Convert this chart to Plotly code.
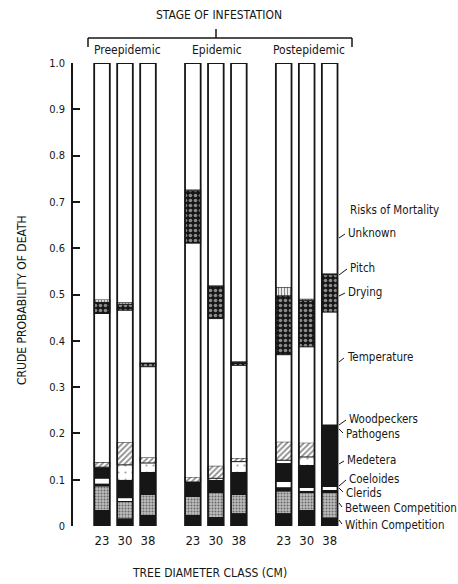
import plotly.graph_objects as go

# ---------------- data ----------------
stages = ["Preepidemic", "Epidemic", "Postepidemic"]
diameter_classes = ["23", "30", "38"]

# crude probability of death by risk (bars ordered Pre23, Pre30, Pre38, Epi23 ... Post38)
within_competition  = [0.035, 0.017, 0.024, 0.024, 0.020, 0.028, 0.028, 0.035, 0.019]
between_competition = [0.050, 0.035, 0.043, 0.039, 0.051, 0.039, 0.046, 0.036, 0.052]
clerids             = [0.007, 0.004, 0.003, 0.002, 0.000, 0.002, 0.010, 0.005, 0.007]
coeloides           = [0.010, 0.004, 0.000, 0.000, 0.000, 0.000, 0.011, 0.006, 0.006]
medetera            = [0.025, 0.040, 0.047, 0.030, 0.029, 0.048, 0.041, 0.050, 0.135]
pathogens           = [0.000, 0.032, 0.019, 0.000, 0.003, 0.022, 0.006, 0.017, 0.000]
woodpeckers         = [0.011, 0.049, 0.012, 0.011, 0.027, 0.008, 0.040, 0.031, 0.000]
temperature         = [0.321, 0.285, 0.196, 0.505, 0.318, 0.200, 0.188, 0.207, 0.243]
drying              = [0.024, 0.013, 0.007, 0.113, 0.069, 0.007, 0.127, 0.101, 0.081]
pitch               = [0.006, 0.004, 0.002, 0.003, 0.003, 0.002, 0.019, 0.003, 0.003]
unknown             = [0.511, 0.517, 0.647, 0.273, 0.480, 0.644, 0.484, 0.509, 0.454]

y_tick_values = [0, 0.1, 0.2, 0.3, 0.4, 0.5, 0.6, 0.7, 0.8, 0.9, 1.0]
y_tick_labels = ["0", "0.1", "0.2", "0.3", "0.4", "0.5", "0.6", "0.7", "0.8", "0.9", "1.0"]

# ---------------- styling ----------------
FONT = "DejaVu Sans Condensed, Liberation Sans Narrow, sans-serif"
INK = "#161616"
W, H = 458, 584
ML, MR, MT, MB = 73, 0, 63, 58
PW, PH = W - ML - MR, H - MT - MB

GROUP_STEP = 3.95
xpos = [g * GROUP_STEP + i for g in range(len(stages)) for i in range(len(diameter_classes))]
xlabels = [c for _ in stages for c in diameter_classes]

UNIT = 23.0          # pixels per x unit
X0_PX = 102.0        # pixel of first bar centre
x_range = [(ML - X0_PX) / UNIT, (W - MR - X0_PX) / UNIT]

def px(xp):
    return (xp - ML) / PW

def py(yp):
    return (MT + PH - yp) / PH

series = [
    ("Within Competition", within_competition, dict(color=INK), 0),
    ("Between Competition", between_competition,
     dict(color="#b8b8b8", pattern=dict(shape=".", fgcolor=INK, bgcolor="#bdbdbd", size=3, solidity=0.35)), 0),
    ("Clerids", clerids, dict(color=INK), 0),
    ("Coeloides", coeloides, dict(color="white"), 0),
    ("Medetera", medetera, dict(color=INK), 0),
    ("Pathogens", pathogens,
     dict(color="white", pattern=dict(shape=".", fgcolor="#444444", bgcolor="white", size=7, solidity=0.08)), 0),
    ("Woodpeckers", woodpeckers,
     dict(color="white", pattern=dict(shape="/", fgcolor=INK, bgcolor="white", size=4, solidity=0.45)), 1),
    ("Temperature", temperature, dict(color="white"), 0),
    ("Drying", drying,
     dict(color=INK, pattern=dict(shape=".", fgcolor="white", bgcolor=INK, size=5, solidity=0.4)), 1),
    ("Pitch", pitch,
     dict(color="white", pattern=dict(shape="|", fgcolor=INK, bgcolor="white", size=3, solidity=0.45)), 1),
    ("Unknown", unknown, dict(color="white"), 0),
]

fig = go.Figure()
base = [0.0] * len(xpos)
for name, vals, mk, lw in series:
    m = dict(mk)
    m["line"] = dict(color=INK, width=lw)
    fig.add_trace(go.Bar(x=xpos, y=vals, base=list(base), width=0.68, marker=m,
                         name=name, showlegend=False, hoverinfo="name+y"))
    base = [b + v for b, v in zip(base, vals)]

# bar outlines
fig.add_trace(go.Bar(x=xpos, y=base, base=[0] * len(xpos), width=0.68,
                     marker=dict(color="rgba(0,0,0,0)", line=dict(color=INK, width=1.8)),
                     showlegend=False, hoverinfo="skip"))

annotations = []
shapes = []

def note(text, x, y, size=12, xanchor="center", angle=0):
    annotations.append(dict(text=text, x=px(x), y=py(y), xref="paper", yref="paper",
                            xanchor=xanchor, yanchor="middle", showarrow=False, textangle=angle,
                            font=dict(size=size, family=FONT, color=INK)))

# title and bracket
note("STAGE OF INFESTATION", 219, 15)
for (x0, y0, x1, y1) in [(88, 38, 352, 38), (88, 38, 88, 47), (352, 38, 352, 47), (216, 29, 216, 38)]:
    shapes.append(dict(type="line", xref="paper", yref="paper", x0=px(x0), x1=px(x1),
                       y0=py(y0), y1=py(y1), line=dict(color=INK, width=1.5)))
group_centres = [127, 217, 309]
for name, cx in zip(stages, group_centres):
    note(name, cx, 50)

# axis titles
note("CRUDE PROBABILITY OF DEATH", 22, 300, angle=-90)
note("TREE DIAMETER CLASS (CM)", 209, 573)

# risk labels (text x px, text y px, leader from y px)
risk_labels = [
    ("Unknown", 346, 233, 238),
    ("Pitch", 348, 268, 275),
    ("Drying", 346, 292, 296),
    ("Temperature", 345, 357, 362),
    ("Woodpeckers", 347, 419, 425),
    ("Pathogens", 344, 434, 429),
    ("Medetera", 345, 460, 464),
    ("Coeloides", 347, 479, 486),
    ("Clerids", 344, 493, 488),
    ("Between Competition", 343, 508, 503),
    ("Within Competition", 343, 525, 520),
]
note("Risks of Mortality", 348, 210, size=11.5, xanchor="left")
for name, tx, ty, ly in risk_labels:
    note(name, tx, ty, size=11.5, xanchor="left")
    shapes.append(dict(type="line", xref="paper", yref="paper", x0=px(339), x1=px(tx - 1),
                       y0=py(ly), y1=py(ty + (1 if ly > ty else -1)),
                       line=dict(color=INK, width=1)))

fig.update_layout(
    width=W, height=H,
    margin=dict(l=ML, r=MR, t=MT, b=MB, pad=0),
    paper_bgcolor="white", plot_bgcolor="white",
    barmode="overlay",
    font=dict(family=FONT, color=INK, size=12),
    xaxis=dict(range=x_range, tickvals=xpos, ticktext=xlabels, ticks="", showline=False,
               showgrid=False, zeroline=False, tickfont=dict(size=13, family=FONT, color=INK),
               ticklabelstandoff=5, fixedrange=True),
    yaxis=dict(range=[0, 1.0], tickvals=y_tick_values, ticktext=y_tick_labels, ticks="inside",
               ticklen=7, tickwidth=1.5, tickcolor=INK, showline=True, linecolor=INK, linewidth=1.6,
               showgrid=False, zeroline=False, tickfont=dict(size=11, family=FONT, color=INK),
               ticklabelstandoff=4, fixedrange=True),
    annotations=annotations,
    shapes=shapes,
)

fig.write_html("out.html")
